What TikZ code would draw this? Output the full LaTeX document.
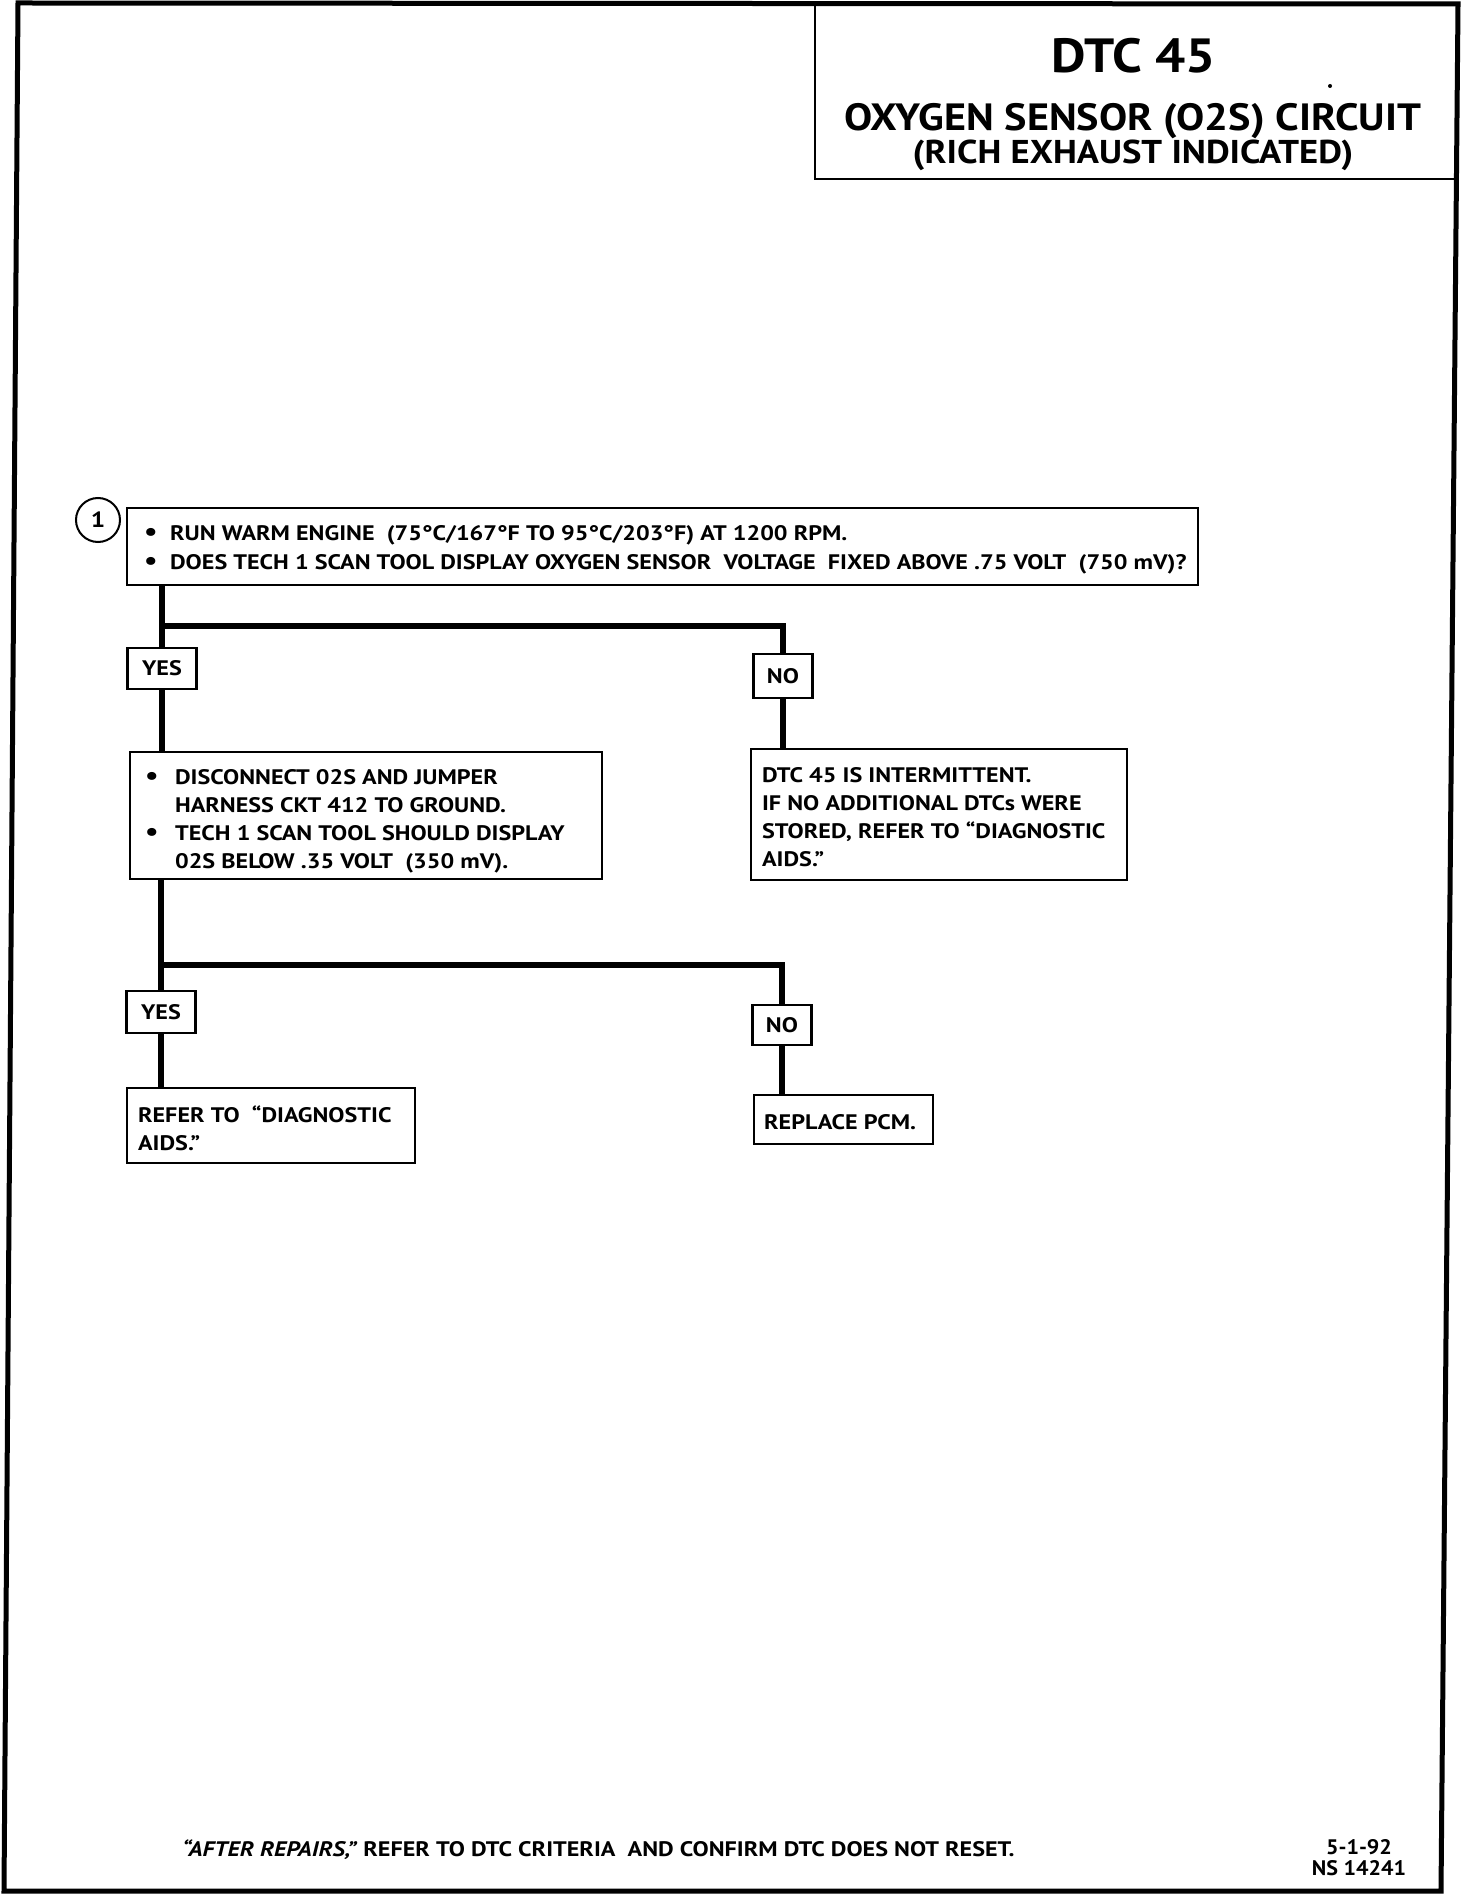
\documentclass[tikz,border=0pt]{standalone}
\usepackage{fontspec}
\setmainfont{PT Sans}[FakeStretch=1.15]
\newfontfamily\titlefont{PT Sans}[FakeStretch=1.11]
\newfontfamily\datefont{PT Sans}[FakeStretch=1.05]
\usetikzlibrary{calc}
\newcommand{\bl}{{\fontsize{13}{0}\selectfont\textbullet}}
\begin{document}
\begin{tikzpicture}[x=0.5pt,y=-0.5pt,
  body/.style={font=\bfseries\fontsize{10.5}{14}\selectfont},
  box/.style={draw,line width=1.3pt,rectangle,inner sep=0pt},
  txt/.style={body,align=left,inner sep=0pt,anchor=west},
  lab/.style={draw,line width=1.3pt,rectangle,inner sep=0pt,body},
  conn/.style={line width=3pt}]
\useasboundingbox (0,0) rectangle (1472,1898);
% outer frame
\draw[line width=2.5pt,line join=miter] (18,3) -- (1458,4) -- (1441,1891) -- (4,1891) -- cycle;
% title box
\draw[line width=1.2pt] (815,3) -- (815,179) -- (1456,179);
\node[font=\titlefont\bfseries\fontsize{24}{28}\selectfont,inner sep=0pt] (t1) at (1134,56) {DTC 45};
\node[font=\titlefont\bfseries\fontsize{19}{22}\selectfont,inner sep=0pt] (t2) at (1133,121) {OXYGEN SENSOR (O2S) CIRCUIT};
\node[font=\titlefont\bfseries\fontsize{16.5}{20}\selectfont,inner sep=0pt] (t3) at (1133,155) {(RICH EXHAUST INDICATED)};
\fill (1330,86) circle (1pt);
% step marker
\node[draw,circle,line width=1pt,minimum size=22pt,inner sep=0pt,font=\bfseries\fontsize{11}{12}\selectfont] (c1) at (98,520) {1};
% box 1
\node[box,minimum width=535.5pt,minimum height=38.5pt] (b1) at (662.5,546.5) {};
\node[txt,font=\bfseries\fontsize{10.5}{14.5}\selectfont] (b1t) at ([xshift=9pt,yshift=-1.5pt]b1.west)
 {\makebox[13pt][l]{\bl}RUN WARM ENGINE\ \ (75°C/167°F TO 95°C/203°F) AT 1200 RPM.\\
  \makebox[13pt][l]{\bl}DOES TECH 1 SCAN TOOL DISPLAY OXYGEN SENSOR\ \ VOLTAGE\ \ FIXED ABOVE .75 VOLT\ \ (750 mV)?};
% first decision
\node[lab,minimum width=34.5pt,minimum height=20.5pt] (yes1) at (162,668.5) {YES};
\node[lab,minimum width=29.5pt,minimum height=22pt] (no1) at (783,676) {NO};
\coordinate (j1) at (162,626);
% box 2
\node[box,minimum width=236pt,minimum height=63.5pt] (b2) at (366,815.5) {};
\node[txt] (b2t) at ([xshift=8pt,yshift=-3pt]b2.west)
 {\makebox[15pt][l]{\bl}DISCONNECT 02S AND JUMPER\\
  \makebox[15pt][l]{}HARNESS CKT 412 TO GROUND.\\
  \makebox[15pt][l]{\bl}TECH 1 SCAN TOOL SHOULD DISPLAY\\
  \makebox[15pt][l]{}02S BELOW .35 VOLT\ \ (350 mV).};
% box 3
\node[box,minimum width=188pt,minimum height=65.5pt] (b3) at (939,814.5) {};
\node[txt] (b3t) at ([xshift=6pt,yshift=-1.5pt]b3.west)
 {DTC 45 IS INTERMITTENT.\\
  IF NO ADDITIONAL DTCs WERE\\
  STORED, REFER TO “DIAGNOSTIC\\
  AIDS.”};
% second decision
\node[lab,minimum width=34.5pt,minimum height=21pt] (yes2) at (161,1012) {YES};
\node[lab,minimum width=29.5pt,minimum height=20pt] (no2) at (782,1025) {NO};
\coordinate (j2) at (161,965);
% box 4
\node[box,minimum width=144pt,minimum height=37.5pt] (b4) at (271,1125.5) {};
\node[txt] (b4t) at ([xshift=6pt,yshift=-1.2pt]b4.west)
 {REFER TO\ \ “DIAGNOSTIC\\ AIDS.”};
% box 5
\node[box,minimum width=89.5pt,minimum height=24.5pt] (b5) at (843.5,1119.5) {};
\node[txt] (b5t) at ([xshift=5.5pt,yshift=-1.2pt]b5.west) {REPLACE PCM.};
% connectors
\draw[conn] (yes1.north |- b1.south) -- (yes1.north);
\draw[conn] (yes1.south) -- (yes1.south |- b2.north);
\draw[conn] (j1) -| (no1.north);
\draw[conn] (no1.south) -- (no1.south |- b3.north);
\draw[conn] (yes2.north |- b2.south) -- (yes2.north);
\draw[conn] (yes2.south) -- (yes2.south |- b4.north);
\draw[conn] (j2) -| (no2.north);
\draw[conn] (no2.south) -- (no2.south |- b5.north);
% footer
\node[txt] (foot) at (182,1850) {\textit{“AFTER REPAIRS,”} REFER TO DTC CRITERIA\ \ AND CONFIRM DTC DOES NOT RESET.};
\node[font=\datefont\bfseries\fontsize{10.5}{12}\selectfont,inner sep=0pt] (d1) at (1359,1847) {5-1-92};
\node[font=\datefont\bfseries\fontsize{10.5}{12}\selectfont,inner sep=0pt] (d2) at (1359,1868) {NS 14241};
\end{tikzpicture}
\end{document}
